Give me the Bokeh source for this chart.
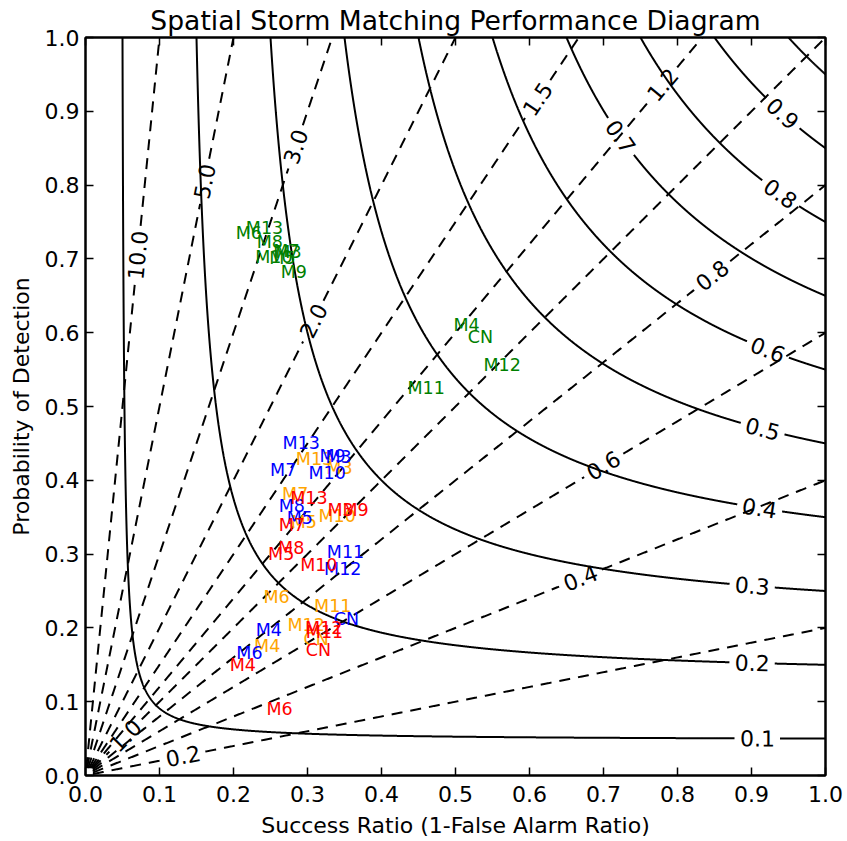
import numpy as np
from bokeh.plotting import figure
from bokeh.models import LinearAxis, FixedTicker, NumeralTickFormatter, Range1d
from bokeh.core.properties import value
from bokeh.embed import file_html
from bokeh.resources import INLINE

# ---------------- data ----------------
tick_vals = [0.0, 0.1, 0.2, 0.3, 0.4, 0.5, 0.6, 0.7, 0.8, 0.9, 1.0]

csi_levels = [0.05, 0.15, 0.25, 0.35, 0.45, 0.55, 0.65, 0.75, 0.85, 0.95]
csi_labels = ["0.1", "0.2", "0.3", "0.4", "0.5", "0.6", "0.7", "0.8", "0.9", ""]
csi_label_sr = [0.908, 0.901, 0.901, 0.911, 0.915, 0.922, 0.723, 0.939, 0.942, None]

bias_levels = [0.2, 0.4, 0.6, 0.8, 1.0, 1.2, 1.5, 2.0, 3.0, 5.0, 10.0]
bias_labels = ["0.2", "0.4", "0.6", "0.8", "1.0", "1.2", "1.5", "2.0", "3.0", "5.0", "10.0"]
bias_label_sr = [0.132, 0.669, 0.700, 0.847, 0.054, 0.780, 0.611, 0.308, 0.284, 0.161, 0.0705]

green_names = ["M6", "M13", "M8", "M7", "M3", "M10", "M5", "M9", "M4", "CN", "M12", "M11"]
green_sr = [0.2207, 0.2419, 0.2491, 0.2716, 0.2743, 0.2545, 0.2662, 0.2815, 0.5149, 0.5338, 0.5631, 0.4604]
green_pod = [0.7348, 0.7421, 0.7226, 0.7104, 0.7087, 0.7023, 0.7015, 0.6820, 0.6111, 0.5939, 0.5556, 0.5253]

orange_names = ["M13", "M3", "M7", "M5", "M10", "M6", "M11", "M12", "M4", "CN"]
orange_sr = [0.3095, 0.3432, 0.2834, 0.2950, 0.3401, 0.2581, 0.3342, 0.2982, 0.2455, 0.3118]
orange_pod = [0.4295, 0.4164, 0.3808, 0.3432, 0.3523, 0.2416, 0.2294, 0.2033, 0.1752, 0.1843]

blue_names = ["M13", "M9", "M3", "M7", "M10", "M8", "M5", "M11", "M12", "CN", "M4", "M6"]
blue_sr = [0.2915, 0.3338, 0.3419, 0.2672, 0.3266, 0.2788, 0.2896, 0.3514, 0.3477, 0.3527, 0.2477, 0.2216]
blue_pod = [0.4508, 0.4336, 0.4309, 0.4146, 0.4102, 0.3645, 0.3492, 0.3022, 0.2795, 0.2114, 0.1965, 0.1663]

red_names = ["M13", "M3", "M9", "M7", "M8", "M5", "M10", "M12", "M11", "CN", "M4", "M6"]
red_sr = [0.3018, 0.3446, 0.3649, 0.2788, 0.2780, 0.2645, 0.3153, 0.3220, 0.3230, 0.3149, 0.2126, 0.2622]
red_pod = [0.3763, 0.3604, 0.3604, 0.3401, 0.3085, 0.2995, 0.2859, 0.2001, 0.1938, 0.1707, 0.1491, 0.0904]

# ---------------- styling / geometry helpers ----------------
FONT = "DejaVu Sans"
LBL_PX = 22
SX, SY = 740.0, 738.0  # frame pixels per unit, used for label gaps / rotation
GRID_MIN = 0.01        # contour grid starts just off the origin
GLYPH_W = {"0": 0.636, "1": 0.636, "2": 0.636, "3": 0.636, "4": 0.636, "5": 0.636,
           "6": 0.636, "7": 0.636, "8": 0.636, "9": 0.636, ".": 0.318}


def text_width(s):
    return sum(GLYPH_W.get(c, 0.6) for c in s) * LBL_PX


def cut_gap(xs, ys, lx, ly, half):
    d = np.hypot((xs - lx) * SX, (ys - ly) * SY)
    xs = xs.copy()
    ys = ys.copy()
    xs[d < half] = np.nan
    ys[d < half] = np.nan
    return xs, ys


p = figure(width=847, height=841, x_range=Range1d(0, 1), y_range=Range1d(0, 1),
           output_backend="svg", toolbar_location=None,
           min_border_left=85, min_border_right=22, min_border_top=37, min_border_bottom=66)
p.xgrid.visible = False
p.ygrid.visible = False
p.outline_line_color = "black"
p.outline_line_width = 2
p.background_fill_color = "white"
p.border_fill_color = "white"

p.title.text = "Spatial Storm Matching Performance Diagram"
p.title.text_font = FONT
p.title.text_font_size = "26.6px"
p.title.text_font_style = "normal"
p.title.text_color = "black"
p.title.align = "center"
p.title.standoff = 4

# CSI contours (solid)
label_x, label_y, label_t, label_a = [], [], [], []
for lev, lab, lsr in zip(csi_levels, csi_labels, csi_label_sr):
    sr_a = np.linspace(lev, 1.0, 1500)
    pod_b = np.linspace(lev, 1.0, 1500)
    sr_b = 1.0 / (1.0 / lev + 1.0 - 1.0 / pod_b)
    pod_a = 1.0 / (1.0 / lev + 1.0 - 1.0 / sr_a)
    sr = np.concatenate([sr_a, sr_b])
    pod = np.concatenate([pod_a, pod_b])
    order = np.argsort(sr)
    sr, pod = sr[order], pod[order]
    if lsr is not None and lab:
        lpod = 1.0 / (1.0 / lev + 1.0 - 1.0 / lsr)
        sr, pod = cut_gap(sr, pod, lsr, lpod, text_width(lab) / 2 + 5)
        slope = -(lpod / lsr) ** 2
        label_x.append(lsr)
        label_y.append(lpod)
        label_t.append(lab)
        label_a.append(float(np.arctan(slope * SY / SX)))
    p.line(sr, pod, line_color="black", line_width=2)

# Frequency bias lines (dashed)
for b, lab, lsr in zip(bias_levels, bias_labels, bias_label_sr):
    xend = min(1.0, 1.0 / b)
    xstart = GRID_MIN / max(1.0, b)
    sr = np.linspace(xstart, xend, 1200)
    pod = b * sr
    lpod = b * lsr
    sr, pod = cut_gap(sr, pod, lsr, lpod, text_width(lab) / 2 + 5)
    p.line(sr, pod, line_color="black", line_width=2, line_dash="11 8")
    label_x.append(lsr)
    label_y.append(lpod)
    label_t.append(lab)
    label_a.append(float(np.arctan(b * SY / SX)))

p.text(x=label_x, y=label_y, text=label_t, angle=label_a, text_color="black",
       text_font=value(FONT), text_font_size=f"{LBL_PX}px",
       text_align="center", text_baseline="middle")

# model labels
for names, xs, ys, col in [(green_names, green_sr, green_pod, "#008000"),
                           (orange_names, orange_sr, orange_pod, "#FFA500"),
                           (blue_names, blue_sr, blue_pod, "#0000FF"),
                           (red_names, red_sr, red_pod, "#FF0000")]:
    p.text(x=xs, y=ys, text=names, text_color=col, text_font=value(FONT),
           text_font_size="17.5px", text_align="center", text_baseline="middle")

# axes
ticker = FixedTicker(ticks=tick_vals)
for ax in [p.xaxis[0], p.yaxis[0]]:
    ax.ticker = ticker
    ax.formatter = NumeralTickFormatter(format="0.0")
    ax.major_tick_in = 8
    ax.major_tick_out = 0
    ax.minor_tick_in = 0
    ax.minor_tick_out = 0
    ax.major_tick_line_width = 1.5
    ax.axis_line_width = 2
    ax.major_label_text_font = FONT
    ax.major_label_text_font_size = "22px"
    ax.major_label_text_color = "black"
    ax.major_label_text_line_height = 1.0
    ax.axis_label_text_font = FONT
    ax.axis_label_text_font_size = "22px"
    ax.axis_label_text_font_style = "normal"
    ax.axis_label_text_color = "black"
    ax.axis_label_text_line_height = 1.0
p.xaxis[0].axis_label = "Success Ratio (1-False Alarm Ratio)"
p.yaxis[0].axis_label = "Probability of Detection"
p.xaxis[0].major_label_standoff = 10
p.xaxis[0].axis_label_standoff = 8
p.yaxis[0].major_label_standoff = 6
p.yaxis[0].axis_label_standoff = 8

for loc in ["above", "right"]:
    ax = LinearAxis(ticker=FixedTicker(ticks=tick_vals))
    ax.major_tick_in = 8
    ax.major_tick_out = 0
    ax.minor_tick_in = 0
    ax.minor_tick_out = 0
    ax.major_tick_line_width = 1.5
    ax.axis_line_width = 2
    ax.major_label_text_font_size = "0px"
    ax.major_label_text_color = None
    ax.major_label_standoff = 0
    ax.axis_label_standoff = 0
    p.add_layout(ax, loc)

open("out.html", "w").write(file_html(p, INLINE))
